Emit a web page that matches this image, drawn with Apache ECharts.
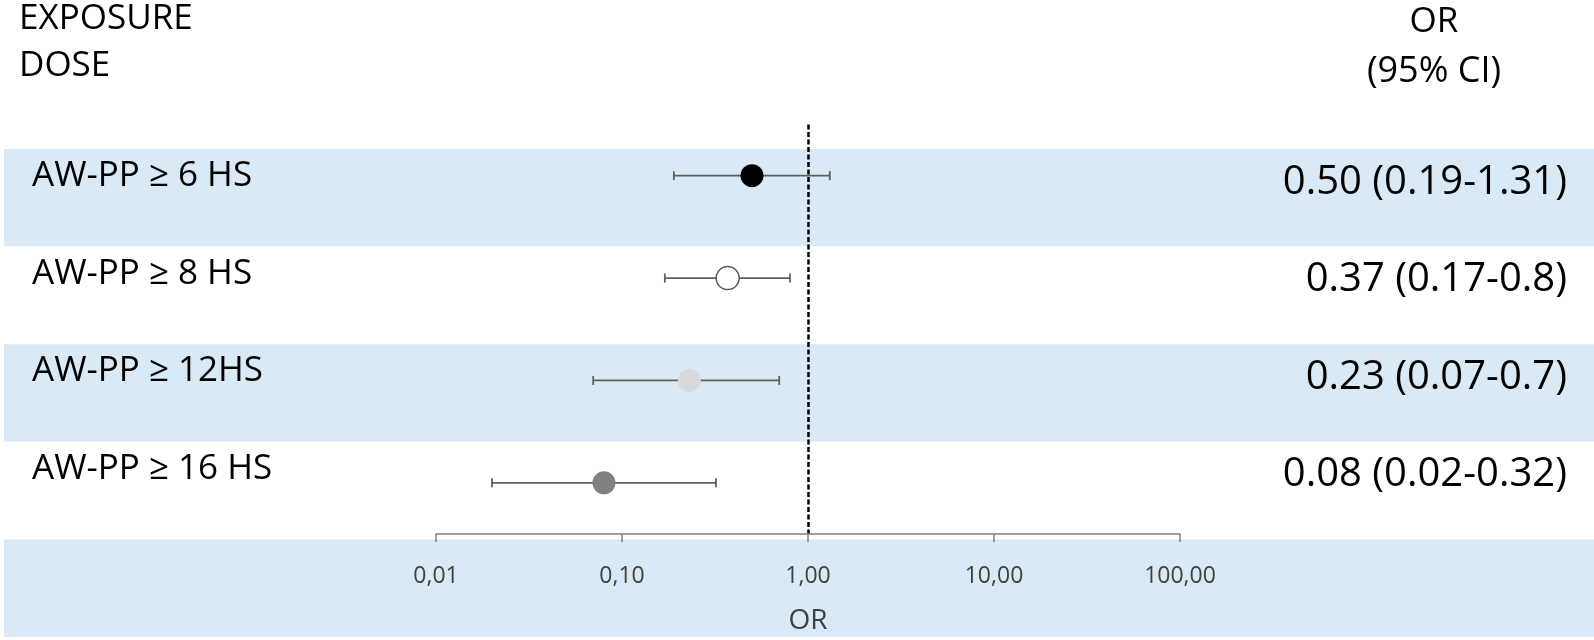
<!DOCTYPE html>
<html>
<head>
<meta charset="utf-8">
<script src="https://cdn.jsdelivr.net/npm/echarts@6/dist/echarts.min.js"></script>
<style>
  html, body { margin: 0; padding: 0; background: #ffffff; }
  #chart { width: 1594px; height: 640px; }
</style>
</head>
<body>
<div id="chart"></div>
<script>
// ---- data ----
const rowLabels = ['AW-PP \u2265 6 HS', 'AW-PP \u2265 8 HS', 'AW-PP \u2265 12HS', 'AW-PP \u2265 16 HS'];
const orValues = [0.50, 0.37, 0.23, 0.08];
const ciLower = [0.19, 0.17, 0.07, 0.02];
const ciUpper = [1.31, 0.8, 0.7, 0.32];
const tickValues = [0.01, 0.1, 1, 10, 100];
const tickLabels = ['0,01', '0,10', '1,00', '10,00', '100,00'];
const rightHeader1 = 'OR';
const rightHeader2 = '(95% CI)';
const axisTitle = 'OR';

// ---- styles ----
const FONT = '"Open Sans", "Noto Sans", sans-serif';
const BAND = '#DAE9F6';
const pointStyles = [
  { color: '#000000', opacity: 1 },
  { color: '#ffffff', borderColor: '#595959', borderWidth: 1.5, opacity: 1 },
  { color: '#D9D9D9', opacity: 1 },
  { color: '#808080', opacity: 1 }
];

const rightTexts = orValues.map((v, i) =>
  v.toFixed(2) + ' (' + ciLower[i].toFixed(2) + '-' + String(ciUpper[i]) + ')');

const chart = echarts.init(document.getElementById('chart'), null, { renderer: 'canvas' });

const option = {
  backgroundColor: '#ffffff',
  animation: false,
  graphic: [
    { type: 'text', x: 19, y: 19.5, style: { text: 'EXPOSURE', fontSize: 35, fontFamily: FONT, fill: '#000', align: 'left', verticalAlign: 'middle' } },
    { type: 'text', x: 19, y: 66.5, style: { text: 'DOSE', fontSize: 35, fontFamily: FONT, fill: '#000', align: 'left', verticalAlign: 'middle' } },
    { type: 'text', x: 1434, y: 22, style: { text: rightHeader1, fontSize: 35, fontFamily: FONT, fill: '#000', align: 'center', verticalAlign: 'middle' } },
    { type: 'text', x: 1434, y: 72, style: { text: rightHeader2, fontSize: 36, fontFamily: FONT, fill: '#000', align: 'center', verticalAlign: 'middle' } }
  ],
  grid: [
    { left: 4, right: 0, top: 149, height: 488, containLabel: false },
    { left: 436, right: 414, top: 124.5, height: 412, containLabel: false }
  ],
  xAxis: [
    { gridIndex: 0, type: 'value', show: false, min: 0, max: 1 },
    {
      gridIndex: 1, type: 'log', logBase: 10, min: 0.01, max: 100, z: 5,
      axisLine: { show: true, lineStyle: { color: '#808080', width: 1.5 } },
      axisTick: { show: true, length: 8, lineStyle: { color: '#808080', width: 1.5 } },
      splitLine: { show: false },
      axisLabel: {
        color: '#404040', fontSize: 23, fontFamily: FONT, margin: 31,
        formatter: function (v) {
          const i = tickValues.findIndex(t => Math.abs(Math.log10(t) - Math.log10(v)) < 1e-6);
          return i >= 0 ? tickLabels[i] : '';
        }
      },
      name: axisTitle, nameLocation: 'middle', nameGap: 73,
      nameTextStyle: { color: '#404040', fontSize: 28, fontFamily: FONT }
    }
  ],
  yAxis: [
    {
      gridIndex: 0, type: 'category', inverse: true, position: 'left',
      data: rowLabels.concat(['']),
      axisLine: { show: false }, axisTick: { show: false },
      splitLine: { show: false },
      splitArea: { show: true, areaStyle: { color: [BAND, '#ffffff'] } },
      axisLabel: {
        inside: true, align: 'left', margin: 28,
        formatter: function (v) { return v ? '{t|' + v + '}\n{s|}' : ''; },
        rich: {
          t: { color: '#000', fontSize: 35, fontFamily: FONT, lineHeight: 35 },
          s: { height: 43, lineHeight: 43, fontSize: 10 }
        }
      }
    },
    {
      gridIndex: 0, type: 'category', inverse: true, position: 'right',
      data: rightTexts.concat(['']),
      axisLine: { show: false }, axisTick: { show: false },
      splitLine: { show: false }, splitArea: { show: false },
      axisLabel: {
        inside: true, align: 'right', margin: 27,
        formatter: function (v) { return v ? '{t|' + v + '}\n{s|}' : ''; },
        rich: {
          t: { color: '#000', fontSize: 40, fontFamily: FONT, lineHeight: 40, align: 'right' },
          s: { height: 31, lineHeight: 31, fontSize: 10 }
        }
      }
    },
    {
      gridIndex: 1, type: 'category', inverse: true, show: false,
      data: rowLabels
    }
  ],
  series: [
    {
      type: 'custom',
      xAxisIndex: 1, yAxisIndex: 2,
      z: 2,
      encode: { x: [0, 1], y: 2 },
      data: rowLabels.map((r, i) => [ciLower[i], ciUpper[i], i]),
      renderItem: function (params, api) {
        const y = api.value(2);
        const p1 = api.coord([api.value(0), y]);
        const p2 = api.coord([api.value(1), y]);
        const h = 4.5;
        const st = { stroke: '#5f5f5f', lineWidth: 1.8 };
        return {
          type: 'group',
          children: [
            { type: 'line', shape: { x1: p1[0], y1: p1[1], x2: p2[0], y2: p2[1] }, style: st },
            { type: 'line', shape: { x1: p1[0], y1: p1[1] - h, x2: p1[0], y2: p1[1] + h }, style: st },
            { type: 'line', shape: { x1: p2[0], y1: p2[1] - h, x2: p2[0], y2: p2[1] + h }, style: st }
          ]
        };
      },
      silent: true
    },
    {
      type: 'scatter',
      xAxisIndex: 1, yAxisIndex: 2,
      z: 3,
      symbol: 'circle',
      symbolSize: 23,
      itemStyle: { opacity: 1 },
      data: orValues.map((v, i) => ({ value: [v, i], itemStyle: pointStyles[i] })),
      markLine: {
        silent: true, symbol: 'none', animation: false,
        label: { show: false },
        lineStyle: { color: '#000000', type: [5, 2.5], width: 2.5, opacity: 1 },
        data: [{ xAxis: 1 }]
      }
    }
  ]
};

chart.setOption(option);
</script>
</body>
</html>
